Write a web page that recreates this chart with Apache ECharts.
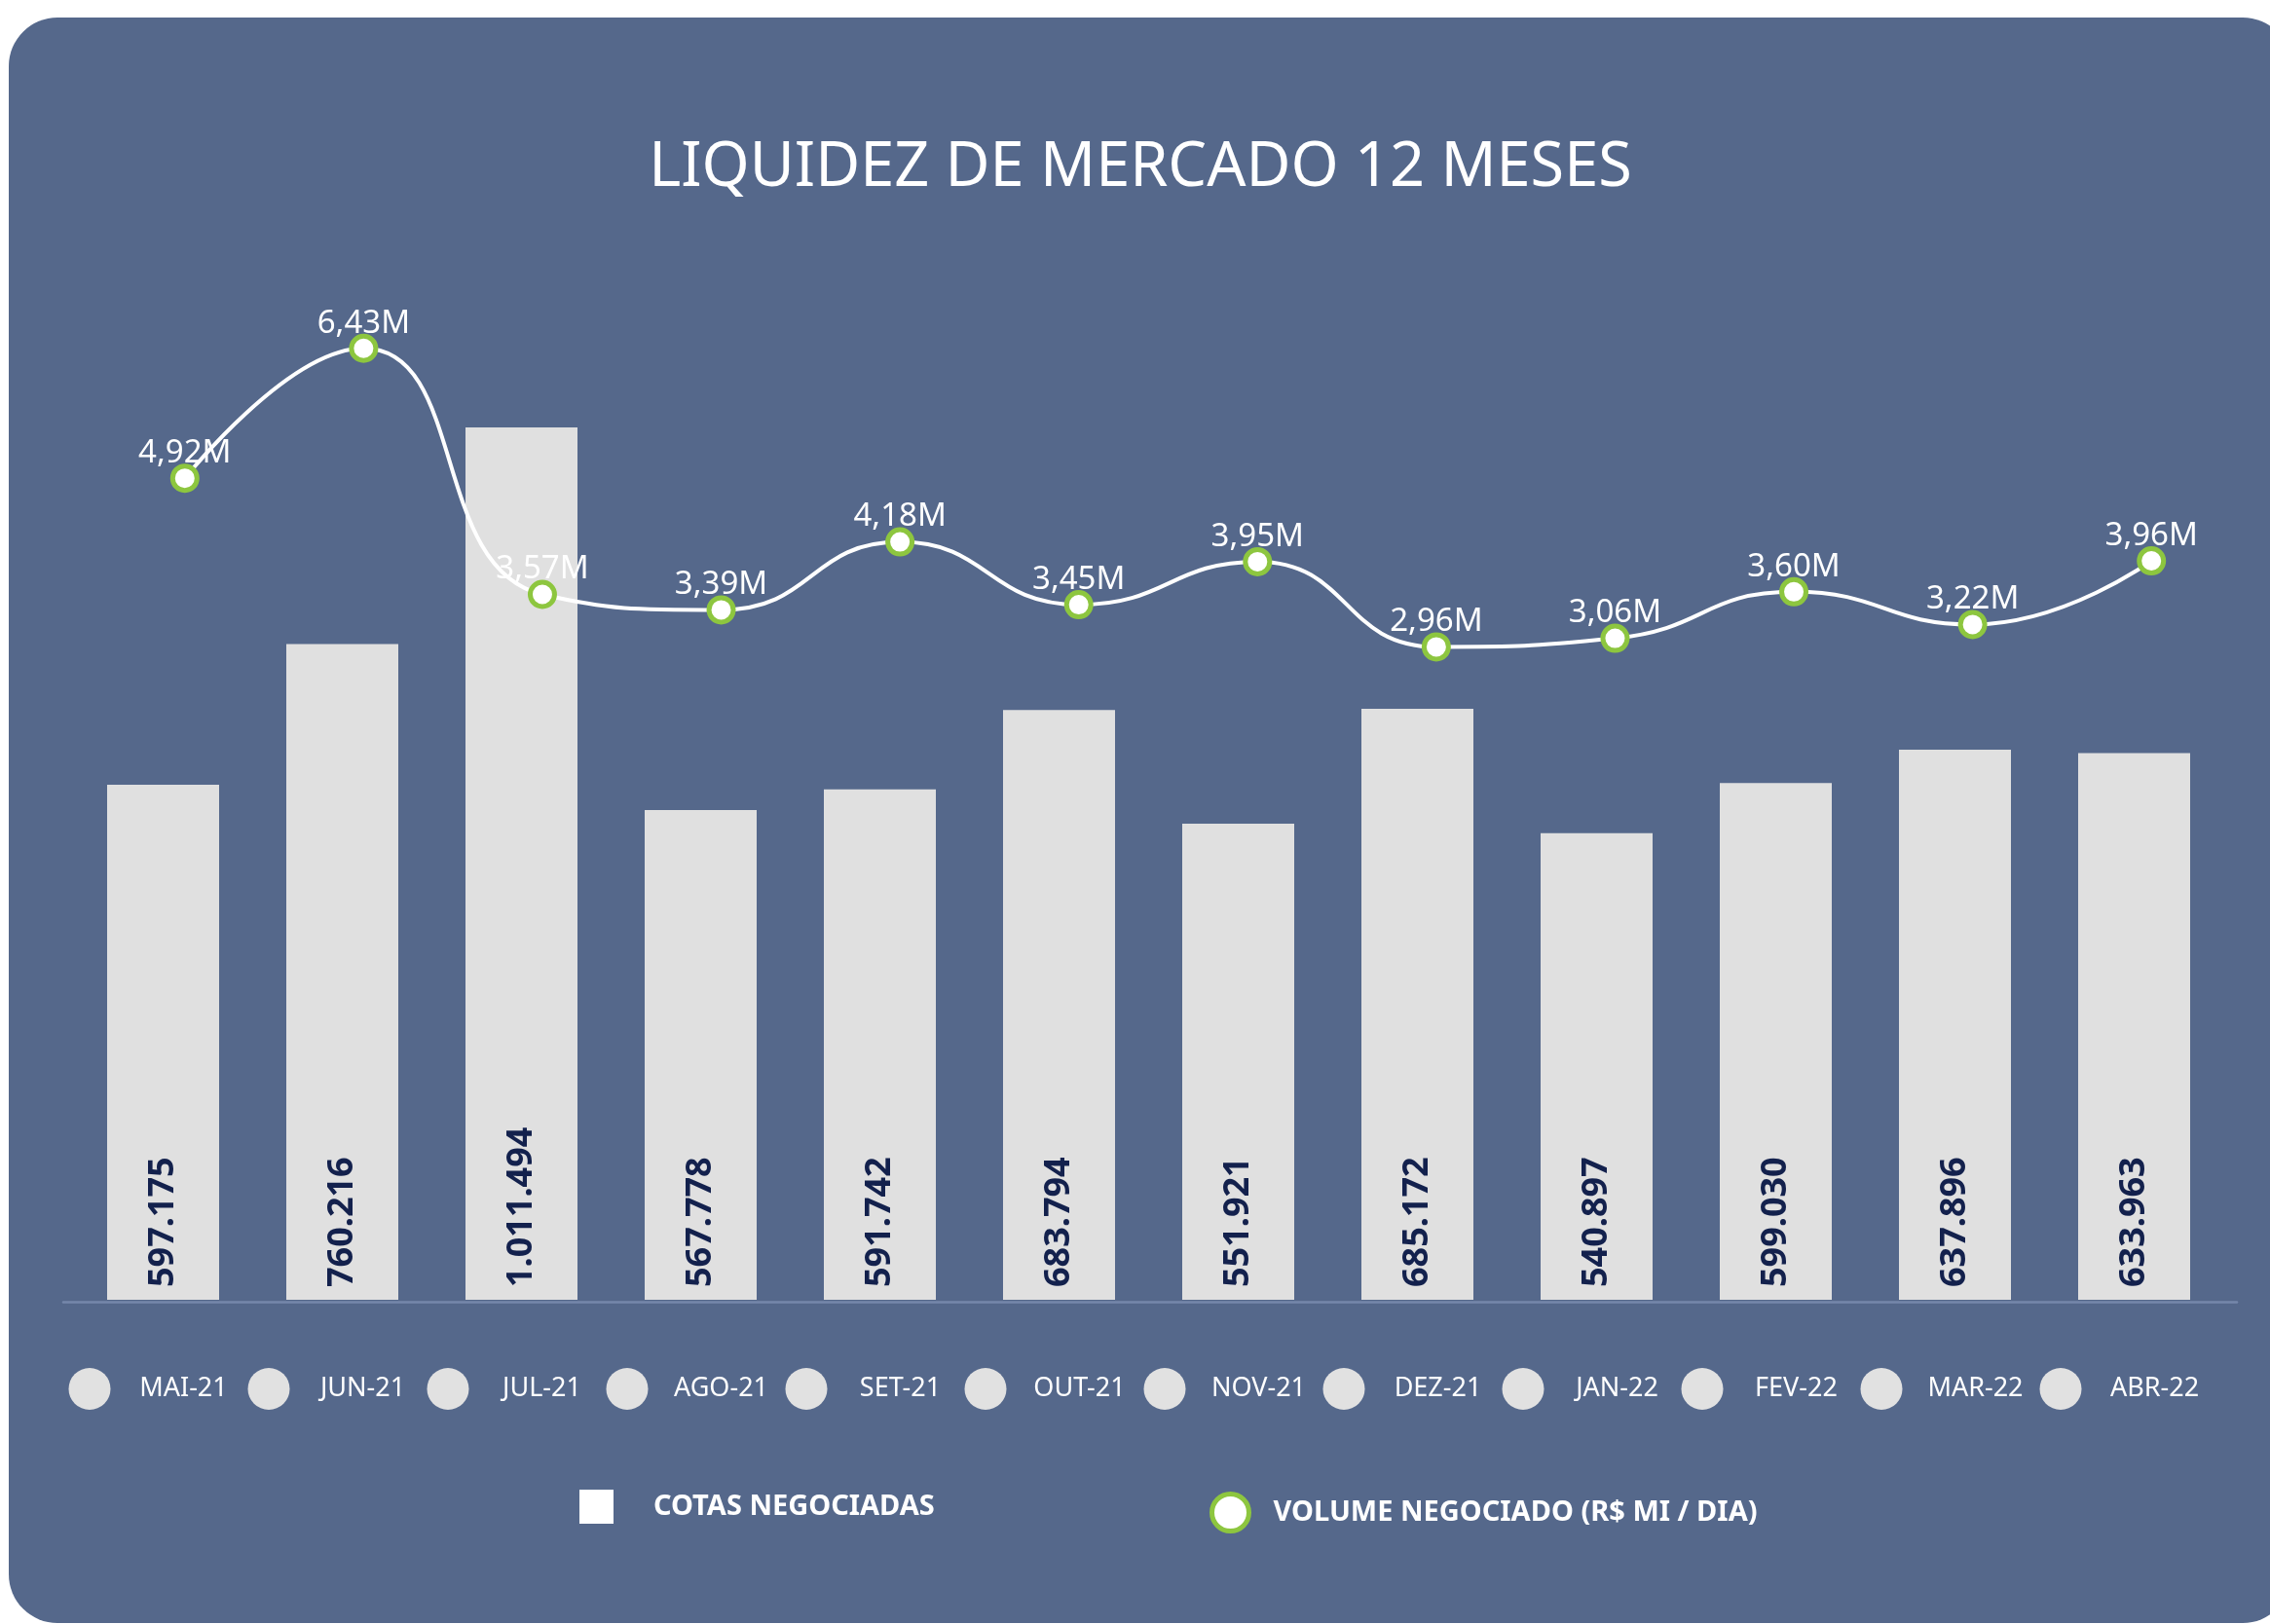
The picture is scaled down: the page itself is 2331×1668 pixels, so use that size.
<!DOCTYPE html>
<html>
<head>
<meta charset="utf-8">
<script src="https://cdn.jsdelivr.net/npm/echarts@6/dist/echarts.min.js"></script>
<style>
  html, body { margin: 0; padding: 0; background: #fff; overflow: hidden; }
  .card { position: absolute; left: 9px; top: 18px; width: 2344px; height: 1649px; border-radius: 50px; background: #55688b; }
  .chart { position: absolute; left: 0; top: 0; width: 2331px; height: 1668px; }
</style>
</head>
<body>
<div class="card"></div>
<div class="chart"></div>
<script>
// dados do gráfico
const categorias = ["MAI-21", "JUN-21", "JUL-21", "AGO-21", "SET-21", "OUT-21", "NOV-21", "DEZ-21", "JAN-22", "FEV-22", "MAR-22", "ABR-22"];
const cotasNegociadas = [597175, 760216, 1011494, 567778, 591742, 683794, 551921, 685172, 540897, 599030, 637896, 633963];
const volumeNegociado = [4.92, 6.43, 3.57, 3.39, 4.18, 3.45, 3.95, 2.96, 3.06, 3.60, 3.22, 3.96];
const nomeBarras = "COTAS NEGOCIADAS";
const nomeLinha = "VOLUME NEGOCIADO (R$ MI / DIA)";

(function () {
  let myChart = echarts.init(document.querySelector(".chart"));
  const fonte = "'Noto Sans', 'Open Sans', sans-serif";

  let option = {
    backgroundColor: "transparent",
    animation: false,
    title: {
      text: "LIQUIDEZ DE MERCADO 12 MESES",
      left: 1166,
      top: 137,
      textAlign: "center",
      textStyle: { color: "#fff", fontSize: 63, fontWeight: "normal", fontFamily: fonte },
    },
    legend: [
      {
        left: 595,
        top: 1530,
        padding: 0,
        itemWidth: 35,
        itemHeight: 35,
        selectedMode: false,
        data: [{ name: nomeBarras, icon: "rect", itemStyle: { color: "#fff" } }],
        textStyle: { color: "#fff", fontSize: 29, fontWeight: "bold", fontFamily: fonte, padding: [0, 0, 0, 36] },
      },
      {
        left: 1242,
        top: 1532,
        padding: 0,
        itemWidth: 38,
        itemHeight: 38,
        selectedMode: false,
        data: [{ name: nomeLinha, icon: "circle", itemStyle: { color: "#fff", borderColor: "#8dc63f", borderWidth: 5 } }],
        textStyle: { color: "#fff", fontSize: 29, fontWeight: "bold", fontFamily: fonte, padding: [0, 0, 0, 20] },
      },
    ],
    grid: [
      // barras
      { left: 75.5, right: 47.5, top: 272, bottom: 333 },
      // linha
      { left: 98, right: 30, top: 219, bottom: 742 },
      // linha do eixo
      { left: 65, right: 34, bottom: 331, height: 1 },
    ],
    xAxis: [
      {
        type: "category",
        gridIndex: 0,
        data: categorias,
        axisLine: { show: false },
        axisTick: { show: false },
        axisLabel: {
          interval: 0,
          margin: 70,
          formatter: "{dot|}{gap|}{t|{value}}{sp|}",
          rich: {
            dot: { width: 43, height: 43, borderRadius: 21.5, backgroundColor: "#e1e1e1" },
            gap: { width: 25 },
            t: { width: 100, align: "left", color: "#fff", fontSize: 27, fontFamily: fonte },
            sp: { width: 26 },
          },
        },
      },
      { type: "category", gridIndex: 1, data: categorias, show: false },
      {
        type: "value",
        gridIndex: 2,
        axisLine: { show: true, lineStyle: { color: "#7587ab", width: 2.5 } },
        axisTick: { show: false },
        axisLabel: { show: false },
        splitLine: { show: false },
      },
    ],
    yAxis: [
      { type: "value", gridIndex: 0, min: 0, max: 1200000, show: false },
      { type: "value", gridIndex: 1, min: 0, max: 8, show: false },
      { type: "value", gridIndex: 2, show: false },
    ],
    series: [
      {
        name: nomeBarras,
        type: "bar",
        xAxisIndex: 0,
        yAxisIndex: 0,
        barWidth: 115,
        data: cotasNegociadas,
        itemStyle: { color: "#e0e0e0" },
        label: {
          show: true,
          position: "insideBottom",
          rotate: 90,
          align: "left",
          verticalAlign: "middle",
          distance: 13,
          color: "#13214d",
          fontSize: 36,
          fontWeight: "bold",
          fontFamily: fonte,
          formatter: function (p) {
            return String(p.value).replace(/\B(?=(\d{3})+(?!\d))/g, ".");
          },
        },
      },
      {
        name: nomeLinha,
        type: "line",
        xAxisIndex: 1,
        yAxisIndex: 1,
        z: 5,
        smooth: 0.5,
        data: volumeNegociado,
        symbol: "circle",
        symbolSize: 25,
        lineStyle: { color: "#fff", width: 4 },
        itemStyle: { color: "#fff", borderColor: "#8dc63f", borderWidth: 5 },
        label: {
          show: true,
          position: "top",
          distance: -6,
          color: "#fff",
          fontSize: 33,
          fontFamily: fonte,
          formatter: function (p) {
            return p.value.toFixed(2).replace(".", ",") + "M";
          },
        },
      },
    ],
  };

  myChart.setOption(option);
  window.addEventListener("resize", function () {
    myChart.resize();
  });
})();
</script>
</body>
</html>
